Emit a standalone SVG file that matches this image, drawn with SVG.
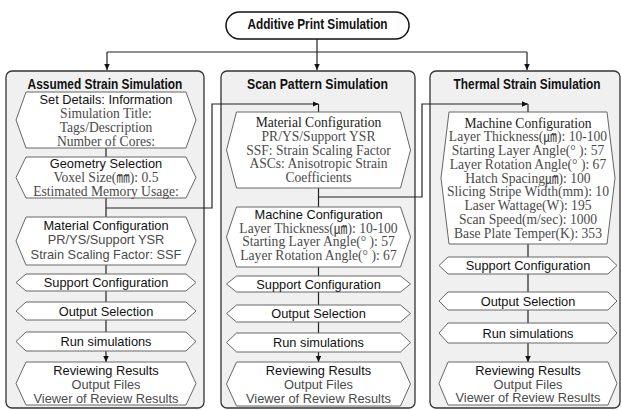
<svg xmlns="http://www.w3.org/2000/svg" width="621" height="410" viewBox="0 0 621 410">
  <defs>
    <marker id="arrow" markerUnits="userSpaceOnUse" markerWidth="7" markerHeight="6" refX="6" refY="2.75" orient="auto">
      <path d="M0,0 L6,2.75 L0,5.5 Z" fill="#111"/>
    </marker>
    <style>
      .panel { fill: #f0f0f0; stroke: #333; stroke-width: 1.3; }
      .hex { fill: #fff; stroke: #666; stroke-width: 1; }
      .pill { fill: #fff; stroke: #111; stroke-width: 1.5; }
      .wire { fill: none; stroke: #222; stroke-width: 1.2; }
      .head { font-family: "Liberation Sans", Arial, sans-serif; font-weight: bold; font-size: 14px; fill: #111; text-anchor: middle; }
      .sans { font-family: "Liberation Sans", Arial, "Noto Sans CJK KR", sans-serif; font-size: 12.8px; fill: #111; text-anchor: middle; }
      .serif { font-family: "Liberation Serif", "Times New Roman", "Noto Sans CJK KR", serif; font-size: 13.6px; fill: #222; text-anchor: middle; }
      .dim { fill: #4a4a4a; }
    </style>
  </defs>

  <!-- root -->
  <g id="root">
    <rect class="pill" x="226" y="12" width="183" height="27" rx="13.5"/>
    <text class="head" transform="translate(317.5,29) scale(0.842,1)">Additive Print Simulation</text>
  </g>

  <!-- simulation columns (headings are drawn narrowed) -->
  <g id="panel-assumed">
    <rect class="panel" x="6" y="71" width="198" height="337" rx="6"/>
    <text class="head" transform="translate(105,89) scale(0.851,1)">Assumed Strain Simulation</text>
  </g>
  <g id="panel-scan">
    <rect class="panel" x="221" y="71" width="194" height="337" rx="6"/>
    <text class="head" transform="translate(317.5,89) scale(0.876,1)">Scan Pattern Simulation</text>
  </g>
  <g id="panel-thermal">
    <rect class="panel" x="430" y="71" width="190" height="337" rx="6"/>
    <text class="head" transform="translate(527,89) scale(0.847,1)">Thermal Strain Simulation</text>
  </g>

  <!-- connectors -->
  <g id="connectors">
    <path class="wire" d="M317,39 V70" marker-end="url(#arrow)"/>
    <path class="wire" d="M107,52 H527"/>
    <path class="wire" d="M107,52 V70" marker-end="url(#arrow)"/>
    <path class="wire" d="M527,52 V70" marker-end="url(#arrow)"/>

    <!-- assumed strain column -->
    <path class="wire" d="M106,148 V157"/>
    <path class="wire" d="M106,198 V217"/>
    <path class="wire" d="M106,208 H212 V104 H318.5" marker-end="url(#arrow)"/>
    <path class="wire" d="M106,265 V274"/>
    <path class="wire" d="M106,291 V302"/>
    <path class="wire" d="M106,320 V332"/>
    <path class="wire" d="M106,351 V362" marker-end="url(#arrow)"/>

    <!-- scan pattern column -->
    <path class="wire" d="M318.5,112 V104"/>
    <path class="wire" d="M318.5,188 V207"/>
    <path class="wire" d="M318.5,197 H422 V104 H528" marker-end="url(#arrow)"/>
    <path class="wire" d="M318.5,267 V276"/>
    <path class="wire" d="M318.5,292 V305"/>
    <path class="wire" d="M318.5,322 V333"/>
    <path class="wire" d="M318.5,352 V362" marker-end="url(#arrow)"/>

    <!-- thermal strain column -->
    <path class="wire" d="M528,112 V104"/>
    <path class="wire" d="M528,244 V257"/>
    <path class="wire" d="M528,274 V292"/>
    <path class="wire" d="M528,310 V323"/>
    <path class="wire" d="M528,343 V362" marker-end="url(#arrow)"/>
  </g>

  <!-- assumed strain steps -->
  <g id="as-details">
    <polygon class="hex" points="26,92 186,92 196,120 186,148 26,148 16,120"/>
    <text class="sans" x="106" y="104">Set Details: Information</text>
    <text class="serif dim" x="106" y="118">Simulation Title:</text>
    <text class="serif dim" x="106" y="132">Tags/Description</text>
    <text class="serif dim" x="106" y="146">Number of Cores:</text>
  </g>
  <g id="as-geometry">
    <polygon class="hex" points="26,157 186,157 196,177.5 186,198 26,198 16,177.5"/>
    <text class="sans" x="106" y="168">Geometry Selection</text>
    <text class="serif dim" x="106" y="182">Voxel Size(㎜): 0.5</text>
    <text class="serif dim" x="106" y="195.5">Estimated Memory Usage:</text>
  </g>
  <g id="as-material">
    <polygon class="hex" points="26,217 186,217 196,241 186,265 26,265 16,241"/>
    <text class="sans" x="106" y="229.5">Material Configuration</text>
    <text class="sans dim" x="106" y="244">PR/YS/Support YSR</text>
    <text class="sans dim" x="106" y="258.5">Strain Scaling Factor: SSF</text>
  </g>
  <g id="as-support">
    <polygon class="hex" points="26,274 186,274 196,282.5 186,291 26,291 16,282.5"/>
    <text class="sans" x="106" y="287">Support Configuration</text>
  </g>
  <g id="as-output">
    <polygon class="hex" points="26,302 186,302 196,311 186,320 26,320 16,311"/>
    <text class="sans" x="106" y="315.5">Output Selection</text>
  </g>
  <g id="as-run">
    <polygon class="hex" points="26,332 186,332 196,341.5 186,351 26,351 16,341.5"/>
    <text class="sans" x="106" y="346">Run simulations</text>
  </g>
  <g id="as-review">
    <polygon class="hex" points="26,362 186,362 196,383.5 186,405 26,405 16,383.5"/>
    <text class="sans" x="106" y="375">Reviewing Results</text>
    <text class="sans dim" x="106" y="389">Output Files</text>
    <text class="sans dim" x="106" y="402.5">Viewer of Review Results</text>
  </g>

  <!-- scan pattern steps -->
  <g id="sp-material">
    <polygon class="hex" points="236.5,112 400.5,112 410.5,150 400.5,188 236.5,188 226.5,150"/>
    <text class="serif" x="318.5" y="127">Material Configuration</text>
    <text class="serif dim" x="318.5" y="140.5">PR/YS/Support YSR</text>
    <text class="serif dim" x="318.5" y="154.5">SSF: Strain Scaling Factor</text>
    <text class="serif dim" x="318.5" y="168">ASCs: Anisotropic Strain</text>
    <text class="serif dim" x="318.5" y="182">Coefficients</text>
  </g>
  <g id="sp-machine">
    <polygon class="hex" points="236.5,207 400.5,207 410.5,237 400.5,267 236.5,267 226.5,237"/>
    <text class="sans" x="318.5" y="219">Machine Configuration</text>
    <text class="serif dim" x="318.5" y="232.5">Layer Thickness(㎛): 10-100</text>
    <text class="serif dim" x="318.5" y="246">Starting Layer Angle(° ): 57</text>
    <text class="serif dim" x="318.5" y="260">Layer Rotation Angle(° ): 67</text>
  </g>
  <g id="sp-support">
    <polygon class="hex" points="236.5,276 400.5,276 410.5,284 400.5,292 236.5,292 226.5,284"/>
    <text class="sans" x="318.5" y="288.5">Support Configuration</text>
  </g>
  <g id="sp-output">
    <polygon class="hex" points="236.5,305 400.5,305 410.5,313.5 400.5,322 236.5,322 226.5,313.5"/>
    <text class="sans" x="318.5" y="318">Output Selection</text>
  </g>
  <g id="sp-run">
    <polygon class="hex" points="236.5,333 400.5,333 410.5,342.5 400.5,352 236.5,352 226.5,342.5"/>
    <text class="sans" x="318.5" y="347">Run simulations</text>
  </g>
  <g id="sp-review">
    <polygon class="hex" points="236.5,362 400.5,362 410.5,384 400.5,406 236.5,406 226.5,384"/>
    <text class="sans" x="318.5" y="375">Reviewing Results</text>
    <text class="sans dim" x="318.5" y="389">Output Files</text>
    <text class="sans dim" x="318.5" y="402.5">Viewer of Review Results</text>
  </g>

  <!-- thermal strain steps -->
  <g id="ts-machine">
    <polygon class="hex" points="449,112 607,112 615,178 607,244 449,244 441,178"/>
    <text class="serif" x="528" y="127.5">Machine Configuration</text>
    <text class="serif dim" x="528" y="141.25">Layer Thickness(㎛): 10-100</text>
    <text class="serif dim" x="528" y="155">Starting Layer Angle(° ): 57</text>
    <text class="serif dim" x="528" y="168.75">Layer Rotation Angle(° ): 67</text>
    <text class="serif dim" x="528" y="182.5">Hatch Spacing㎛): 100</text>
    <text class="serif dim" x="528" y="196.25">Slicing Stripe Width(mm): 10</text>
    <text class="serif dim" x="528" y="210">Laser Wattage(W): 195</text>
    <text class="serif dim" x="528" y="223.75">Scan Speed(m/sec): 1000</text>
    <text class="serif dim" x="528" y="237.5">Base Plate Temper(K): 353</text>
  </g>
  <g id="ts-support">
    <polygon class="hex" points="448,257 608,257 617,265.5 608,274 448,274 439,265.5"/>
    <text class="sans" x="528" y="270">Support Configuration</text>
  </g>
  <g id="ts-output">
    <polygon class="hex" points="448,292 608,292 617,301 608,310 448,310 439,301"/>
    <text class="sans" x="528" y="305.5">Output Selection</text>
  </g>
  <g id="ts-run">
    <polygon class="hex" points="448,323 608,323 617,333 608,343 448,343 439,333"/>
    <text class="sans" x="528" y="337.5">Run simulations</text>
  </g>
  <g id="ts-review">
    <polygon class="hex" points="448,362 608,362 617,383.5 608,405 448,405 439,383.5"/>
    <text class="sans" x="528" y="375">Reviewing Results</text>
    <text class="sans dim" x="528" y="388.5">Output Files</text>
    <text class="sans dim" x="528" y="402">Viewer of Review Results</text>
  </g>
</svg>
